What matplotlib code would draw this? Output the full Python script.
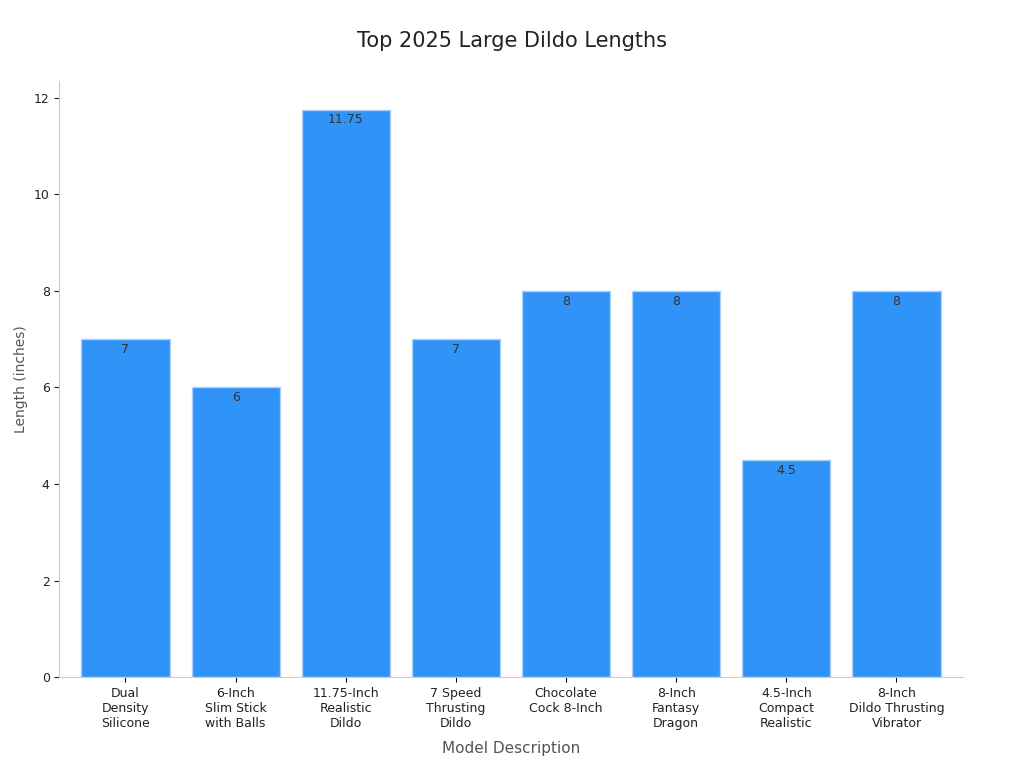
import matplotlib
matplotlib.use("Agg")
import matplotlib.pyplot as plt

# data
models = ["Dual\nDensity\nSilicone", "6-Inch\nSlim Stick\nwith Balls", "11.75-Inch\nRealistic\nDildo",
          "7 Speed\nThrusting\nDildo", "Chocolate\nCock 8-Inch", "8-Inch\nFantasy\nDragon",
          "4.5-Inch\nCompact\nRealistic", "8-Inch\nDildo Thrusting\nVibrator"]
lengths = [7, 6, 11.75, 7, 8, 8, 4.5, 8]
labels = ["7", "6", "11.75", "7", "8", "8", "4.5", "8"]

fig, ax = plt.subplots(figsize=(10.24, 7.68), dpi=100)
fig.subplots_adjust(left=0.058, right=0.94, top=0.895, bottom=0.118)

x = range(len(models))
bars = ax.bar(x, lengths, width=0.8, color="#2f93f8", edgecolor="#a8d0f8", linewidth=1)
for xi, v, t in zip(x, lengths, labels):
    ax.text(xi, v - 0.08, t, ha="center", va="top", fontsize=9, color="#333333")

ax.set_xticks(list(x))
ax.set_xticklabels(models, fontsize=9, color="#222222")
ax.set_xlim(-0.6, 7.6)
ax.set_ylim(0, 12.35)
ax.set_yticks(range(0, 13, 2))
ax.tick_params(axis="y", labelsize=9, colors="#222222")
ax.set_xlabel("Model Description", fontsize=11, color="#555555", labelpad=8)
ax.set_ylabel("Length (inches)", fontsize=10, color="#555555")
fig.suptitle("Top 2025 Large Dildo Lengths", fontsize=15, color="#222222", x=0.5, y=0.96)
for s in ["top", "right"]:
    ax.spines[s].set_visible(False)
for s in ["left", "bottom"]:
    ax.spines[s].set_color("#cccccc")

fig.savefig("out.png")
